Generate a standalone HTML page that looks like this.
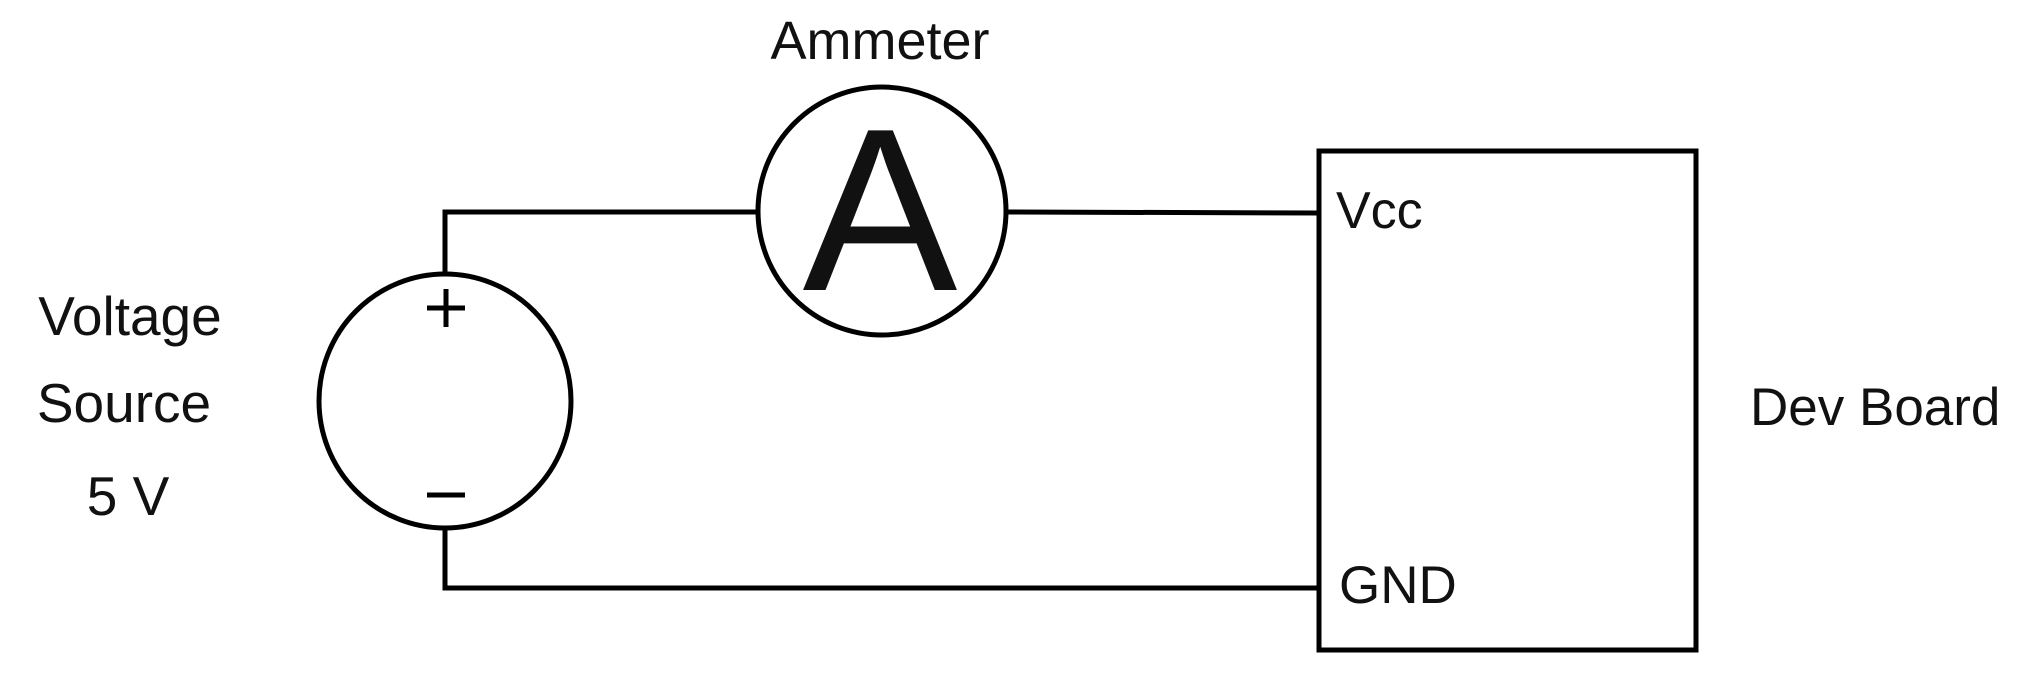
<!DOCTYPE html>
<html><head><meta charset="utf-8"><style>
html,body{margin:0;padding:0;background:#fff;}
svg{display:block;}
text{font-family:"Liberation Sans",Arial,sans-serif;fill:#111;}
</style></head><body>
<svg width="2032" height="680" viewBox="0 0 2032 680" xmlns="http://www.w3.org/2000/svg">
<g fill="none" stroke="#000" stroke-width="5">
  <polyline points="445,274 445,212 757,212"/>
  <line x1="1007" y1="212" x2="1319" y2="213"/>
  <polyline points="445,528 445,588 1319,588"/>
  <ellipse cx="445" cy="401" rx="126" ry="127"/>
  <ellipse cx="882" cy="211" rx="124" ry="124"/>
  <rect x="1319" y="151" width="377" height="499"/>
  <line x1="427" y1="308" x2="465" y2="308"/>
  <line x1="446" y1="289" x2="446" y2="327"/>
  <line x1="427" y1="495" x2="465" y2="495"/>
</g>
<text x="880" y="290" font-size="232" text-anchor="middle">A</text>
<text x="880" y="59" font-size="54" text-anchor="middle">Ammeter</text>
<text x="130" y="335" font-size="55" text-anchor="middle">Voltage</text>
<text x="124" y="422" font-size="55" text-anchor="middle">Source</text>
<text x="128" y="515" font-size="55" text-anchor="middle">5 V</text>
<text x="1336" y="228" font-size="52">Vcc</text>
<text x="1339" y="603" font-size="53">GND</text>
<text x="1750" y="425" font-size="53">Dev Board</text>
</svg>
</body></html>
